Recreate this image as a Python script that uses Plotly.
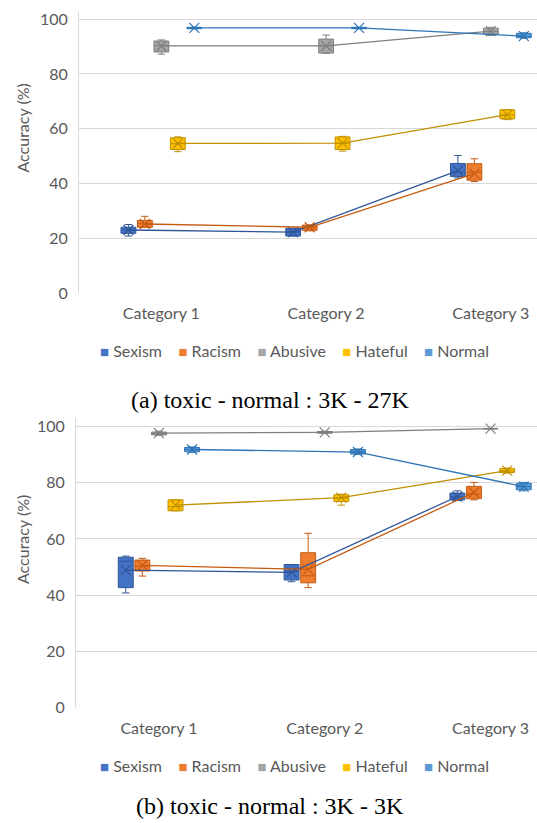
import plotly.graph_objects as go

# ---------------- data ----------------
CATEGORIES = ["Category 1", "Category 2", "Category 3"]
SERIES = ["Sexism", "Racism", "Abusive", "Hateful", "Normal"]
Y_TICKS = [0, 20, 40, 60, 80, 100]
CAPTION_A = "(a) toxic - normal : 3K - 27K"
CAPTION_B = "(b) toxic - normal : 3K - 3K"
Y_TITLE = "Accuracy (%)"

# panel (a): toxic - normal 3K - 27K   (per category: Cat1, Cat2, Cat3)
A_SEXISM = dict(low=[20.8, 20.8, 42.0], q1=[21.8, 20.8, 42.5], med=[23.0, 22.3, 44.2],
                q3=[24.0, 23.6, 47.3], high=[25.0, 23.6, 50.2], mean=[23.0, 22.2, 44.7])
A_RACISM = dict(low=[24.0, 22.7, 40.7], q1=[24.0, 22.9, 41.2], med=[25.3, 23.8, 44.1],
                q3=[26.5, 24.8, 47.2], high=[28.0, 24.8, 49.0], mean=[25.2, 24.0, 43.6])
A_ABUSIVE = dict(low=[87.2, 87.5, 94.0], q1=[88.0, 87.6, 94.5], med=[90.3, 90.3, 95.5],
                 q3=[92.0, 92.7, 96.7], high=[92.4, 94.2, 97.0], mean=[90.2, 90.2, 95.6])
A_HATEFUL = dict(low=[51.6, 51.8, 63.3], q1=[52.4, 52.4, 63.6], med=[54.5, 54.7, 65.0],
                 q3=[56.7, 57.0, 66.9], high=[57.0, 57.2, 67.0], mean=[54.6, 54.7, 65.1])
A_NORMAL = dict(low=[96.5, 96.5, 93.0], q1=[96.5, 96.5, 93.2], med=[96.8, 96.8, 93.8],
                q3=[97.0, 97.0, 94.8], high=[97.0, 97.0, 95.0], mean=[96.8, 96.8, 93.8])

# panel (b): toxic - normal 3K - 3K
B_SEXISM = dict(low=[40.8, 44.8, 73.7], q1=[42.7, 45.4, 73.9], med=[52.1, 48.3, 75.0],
                q3=[53.5, 50.9, 76.3], high=[53.9, 50.9, 77.1], mean=[48.9, 48.1, 75.1])
B_RACISM = dict(low=[46.8, 42.7, 73.9], q1=[48.6, 44.4, 74.3], med=[50.3, 46.9, 76.0],
                q3=[52.5, 55.1, 78.7], high=[53.1, 62.0, 80.1], mean=[50.6, 49.2, 76.5])
B_ABUSIVE = dict(low=[96.9, 97.5, 99.1], q1=[97.0, 97.6, 99.1], med=[97.5, 97.9, 99.2],
                 q3=[98.0, 98.2, 99.3], high=[98.3, 98.3, 99.3], mean=[97.6, 97.9, 99.2])
B_HATEFUL = dict(low=[70.0, 72.0, 83.4], q1=[70.0, 73.3, 83.6], med=[71.5, 74.5, 84.2],
                 q3=[73.9, 75.7, 85.0], high=[73.9, 75.9, 85.2], mean=[72.0, 74.7, 84.3])
B_NORMAL = dict(low=[90.8, 90.0, 77.1], q1=[91.0, 90.2, 77.5], med=[91.8, 91.0, 78.6],
                q3=[92.5, 91.8, 79.8], high=[92.7, 92.0, 80.1], mean=[91.8, 90.9, 78.6])

PANEL_A = [A_SEXISM, A_RACISM, A_ABUSIVE, A_HATEFUL, A_NORMAL]
PANEL_B = [B_SEXISM, B_RACISM, B_ABUSIVE, B_HATEFUL, B_NORMAL]

# ---------------- style ----------------
FILL = ["#4472C4", "#ED7D31", "#A5A5A5", "#FFC000", "#5B9BD5"]
DARK = ["#2F5597", "#C55A11", "#7F7F7F", "#BF9000", "#2E75B6"]
FONT = "Lato"
TXT = "#595959"
GRID = "#D9D9D9"
SLOT = 0.1      # spacing of series within a category (x units)
BOXW = 0.09
H = 823.0
W = 537.0


def py(px):
    return 1 - px / H


def px_x(px):
    return px / W


fig = go.Figure()


def add_panel(panel, xa, ya):
    for i, (name, st) in enumerate(zip(SERIES, panel)):
        xs = [c + (i - 2) * SLOT for c in range(len(CATEGORIES))]
        fig.add_trace(go.Box(
            x=xs, q1=st["q1"], median=st["med"], q3=st["q3"],
            lowerfence=st["low"], upperfence=st["high"],
            width=BOXW, fillcolor=FILL[i],
            line=dict(color=DARK[i], width=1), whiskerwidth=0.5,
            xaxis=xa, yaxis=ya, showlegend=False, name=name, hoverinfo="skip"))
    for i, (name, st) in enumerate(zip(SERIES, panel)):
        xs = [c + (i - 2) * SLOT for c in range(len(CATEGORIES))]
        fig.add_trace(go.Scatter(
            x=xs, y=st["mean"], mode="lines+markers",
            line=dict(color=DARK[i], width=1.3),
            marker=dict(symbol="x-thin", size=10, line=dict(color=DARK[i], width=1.2)),
            xaxis=xa, yaxis=ya, showlegend=False, name=name, hoverinfo="skip"))


add_panel(PANEL_A, "x", "y")
add_panel(PANEL_B, "x2", "y2")

xcommon = dict(range=[-0.5, 2.28], tickmode="array", tickvals=list(range(len(CATEGORIES))),
               ticktext=CATEGORIES, showgrid=False, zeroline=False, showline=False,
               ticks="", tickfont=dict(family=FONT, size=16, color=TXT),
               ticklabelstandoff=9, automargin=False, fixedrange=True)
ycommon = dict(tickmode="array", tickvals=Y_TICKS, showgrid=True, gridcolor=GRID, gridwidth=1,
               zeroline=False, showline=True, linecolor=GRID, linewidth=1, ticks="",
               tickfont=dict(family=FONT, size=16, color=TXT), ticklabelstandoff=7,
               automargin=False, fixedrange=True)


def legend_text():
    parts = []
    for i, name in enumerate(SERIES):
        parts.append(f"<span style='color:{FILL[i]};font-size:15px'>\u25A0</span>\u00a0{name}")
    return "\u00a0\u00a0\u00a0\u00a0".join(parts)


annotations = []
for cap, ycap, yleg, ytit in [(CAPTION_A, 400, 350, 128.5), (CAPTION_B, 806, 765, 540)]:
    annotations.append(dict(text=cap, x=0.503, y=py(ycap), xref="paper", yref="paper",
                            showarrow=False, xanchor="center", yanchor="middle",
                            font=dict(family="Liberation Serif", size=24, color="black")))
    annotations.append(dict(text=legend_text(), x=px_x(294.5), y=py(yleg), xref="paper",
                            yref="paper", showarrow=False, xanchor="center", yanchor="middle",
                            font=dict(family=FONT, size=16, color=TXT)))
    annotations.append(dict(text=Y_TITLE, x=px_x(22), y=py(ytit), xref="paper", yref="paper",
                            showarrow=False, xanchor="center", yanchor="middle", textangle=-90,
                            font=dict(family=FONT, size=16, color=TXT)))

fig.update_layout(
    width=537, height=823, margin=dict(l=0, r=0, t=0, b=0),
    paper_bgcolor="white", plot_bgcolor="white", boxmode="overlay", showlegend=False,
    xaxis=dict(domain=[79 / W, 1], anchor="y", **xcommon),
    yaxis=dict(domain=[py(293), py(12)], range=[0, 102.6], anchor="x", **ycommon),
    xaxis2=dict(domain=[76 / W, 1], anchor="y2", **xcommon),
    yaxis2=dict(domain=[py(707.7), py(418)], range=[0, 103], anchor="x2", **ycommon),
    annotations=annotations,
)

fig.write_html("out.html", config={"displayModeBar": False},
               post_script="document.body.style.margin='0px';"
                           "document.body.style.overflow='hidden';")
